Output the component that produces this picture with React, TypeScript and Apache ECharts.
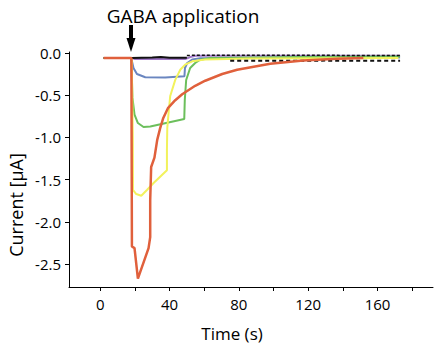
import React, { useEffect, useRef } from "react";
import * as echarts from "echarts";

// Time (s) / current (µA) samples, one pair of arrays per trace
const redT = [2, 18.0, 18.3, 19.8, 21.75, 27.9, 28.85, 28.85, 29.4, 31.3, 32.9, 34.6, 36.4, 39.2, 43.3, 47.3, 54.8, 60.6, 70.4, 79.0, 98.1, 117.1, 136.7, 151.8];
const redV = [-0.06, -0.06, -2.29, -2.31, -2.67, -2.31, -2.18, -1.74, -1.35, -1.24, -1.03, -0.89, -0.77, -0.65, -0.56, -0.49, -0.39, -0.33, -0.25, -0.2, -0.13, -0.09, -0.07, -0.06];

const yellowT = [2, 18.2, 18.8, 18.9, 20.8, 23.7, 27.1, 30.8, 38.5, 38.5, 38.7, 39.5, 40.4, 43.3, 46.2, 49.0, 53.1, 60.6, 86.6, 172];
const yellowV = [-0.06, -0.06, -1.0, -1.62, -1.67, -1.69, -1.62, -1.54, -1.39, -1.15, -0.89, -0.7, -0.51, -0.32, -0.2, -0.14, -0.1, -0.08, -0.067, -0.06];

const greenT = [2, 17.9, 18.3, 18.6, 19.8, 21.75, 25.0, 28.9, 48.5, 48.8, 49.6, 51.9, 54.8, 57.7, 63.5, 115.4, 173];
const greenV = [-0.06, -0.06, -0.32, -0.53, -0.73, -0.83, -0.877, -0.871, -0.783, -0.558, -0.321, -0.179, -0.12, -0.081, -0.061, -0.049, -0.043];

const blueT = [2, 17.9, 19.2, 21.2, 26.0, 37.5, 48.6, 48.9, 50.2, 53.1, 57.7, 173];
const blueV = [-0.06, -0.06, -0.179, -0.25, -0.289, -0.292, -0.277, -0.179, -0.12, -0.079, -0.064, -0.055];

const purpleT = [2, 18, 20, 49, 52, 55, 173];
const purpleV = [-0.06, -0.06, -0.073, -0.073, -0.05, -0.035, -0.035];

const blackSolidT = [2, 18, 30, 35, 40, 50];
const blackSolidV = [-0.06, -0.06, -0.055, -0.05, -0.057, -0.058];

const blackUpperT = [50, 80, 110, 140, 173];
const blackUpperV = [-0.03, -0.029, -0.029, -0.03, -0.03];

const blackLowerT = [75, 100, 130, 160, 173];
const blackLowerV = [-0.093, -0.093, -0.092, -0.093, -0.093];

const xMajorTicks = [0, 40, 80, 120, 160];
const xAllTicks = [0, 20, 40, 60, 80, 100, 120, 140, 160, 180];
const yTicks = [0, -0.5, -1.0, -1.5, -2.0, -2.5];

const FONT = "'Open Sans', 'Noto Sans', sans-serif";

const pairs = (t: number[], v: number[]) => t.map((x, i) => [x, v[i]]);

export default function App() {
  const ref = useRef<HTMLDivElement>(null);
  useEffect(() => {
    if (!ref.current) return;
    const chart = echarts.init(ref.current, null, { renderer: "svg" });
    const line = (name: string, t: number[], v: number[], color: string, width: number, type: any = "solid", z = 2) => ({
      name,
      type: "line",
      data: pairs(t, v),
      showSymbol: false,
      symbol: "none",
      z,
      lineStyle: { color, width, type },
    });
    chart.setOption({
      animation: false,
      backgroundColor: "#ffffff",
      grid: { left: 69, right: 3, top: 52, bottom: 58, containLabel: false },
      xAxis: {
        type: "value",
        min: -18,
        max: 192,
        splitLine: { show: false },
        axisLine: { show: true, onZero: false, lineStyle: { color: "#000", width: 1 } },
        axisTick: { show: true, length: 4, customValues: xAllTicks, lineStyle: { color: "#000" } },
        axisLabel: { customValues: xMajorTicks, color: "#000", fontSize: 15, fontFamily: FONT, margin: 9 },
      },
      yAxis: {
        type: "value",
        min: -2.77,
        max: 0.01,
        splitLine: { show: false },
        axisLine: { show: true, onZero: false, lineStyle: { color: "#000", width: 1 } },
        axisTick: { show: true, length: 4, customValues: yTicks, lineStyle: { color: "#000" } },
        axisLabel: {
          customValues: yTicks,
          color: "#000",
          fontSize: 15,
          fontFamily: FONT,
          margin: 8,
          formatter: (v: number) => (Math.abs(v) < 1e-9 ? "0.0" : v.toFixed(1)),
        },
      },
      series: [
        line("purple", purpleT, purpleV, "#a078c8", 2, "solid", 2),
        line("blue", blueT, blueV, "#6a86c0", 2, "solid", 3),
        line("green", greenT, greenV, "#6cbf5c", 2, "solid", 4),
        line("yellow", yellowT, yellowV, "#f2f25c", 2, "solid", 5),
        line("black", blackSolidT, blackSolidV, "#111", 2, "solid", 6),
        line("blackLower", blackLowerT, blackLowerV, "#111", 2, [4, 3], 6),
        line("red", redT, redV, "#e0603c", 2.5, "solid", 7),
        line("blackUpper", blackUpperT, blackUpperV, "#111", 1.5, [3, 2], 8),
      ],
    });
    const p = chart.convertToPixel({ gridIndex: 0 }, [18, 0]) as number[];
    const ax = Math.round(p[0]);
    chart.setOption({
      graphic: [
        {
          type: "text",
          x: 183,
          y: 16,
          style: { text: "GABA application", font: `19px ${FONT}`, fill: "#000", align: "center", verticalAlign: "middle" },
        },
        { type: "rect", shape: { x: ax - 2, y: 25, width: 4, height: 15 }, style: { fill: "#000" } },
        { type: "polygon", shape: { points: [[ax - 4.5, 38], [ax + 4.5, 38], [ax, 52]] }, style: { fill: "#000" } },
        {
          type: "text",
          x: 16,
          y: 205,
          rotation: Math.PI / 2,
          style: { text: "Current [µA]", font: `18px ${FONT}`, fill: "#000", align: "center", verticalAlign: "middle" },
        },
        {
          type: "text",
          x: 232,
          y: 333,
          style: { text: "Time (s)", font: `17px ${FONT}`, fill: "#000", align: "center", verticalAlign: "middle" },
        },
      ],
    });
    return () => chart.dispose();
  }, []);
  return <div ref={ref} style={{ position: "fixed", left: 0, top: 0, width: 436, height: 345 }} />;
}
